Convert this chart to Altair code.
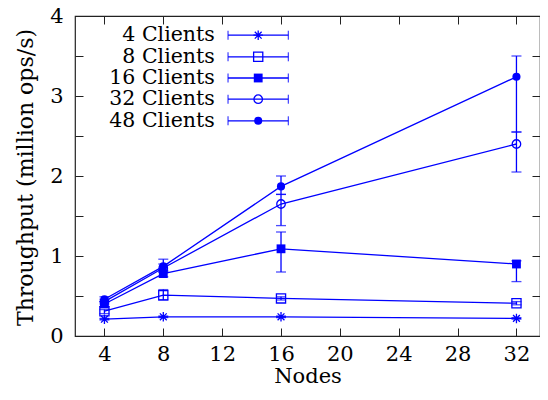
import altair as alt
import pandas as pd

# ---- data ----
nodes = [4, 8, 16, 32]
series = ["4 Clients", "8 Clients", "16 Clients", "32 Clients", "48 Clients"]
c4 = [0.21, 0.24, 0.24, 0.22]
c8 = [0.31, 0.51, 0.47, 0.41]
c16 = [0.40, 0.78, 1.09, 0.90]
c32 = [0.43, 0.85, 1.65, 2.40]
c48 = [0.46, 0.87, 1.87, 3.24]
c4_lo = [0.20, 0.23, 0.23, 0.21]
c4_hi = [0.22, 0.25, 0.25, 0.23]
c8_lo = [0.28, 0.45, 0.45, 0.39]
c8_hi = [0.33, 0.58, 0.49, 0.43]
c16_lo = [0.37, 0.74, 0.80, 0.68]
c16_hi = [0.43, 0.82, 1.30, 0.94]
c32_lo = [0.40, 0.80, 1.38, 2.05]
c32_hi = [0.46, 0.90, 1.77, 2.55]
c48_lo = [0.43, 0.80, 1.77, 2.55]
c48_hi = [0.49, 0.96, 2.00, 3.50]

x_ticks = [4, 8, 12, 16, 20, 24, 28, 32]
y_ticks = [0, 0.5, 1, 1.5, 2, 2.5, 3, 3.5, 4]

# legend placement (data coordinates)
legend_y = [3.76, 3.49, 3.225, 2.96, 2.69]
legend_text_x = 11.5
legend_line_x = [12.4, 16.5]
legend_marker_x = 14.45

BLUE = "#0000ff"
FONT = "DejaVu Serif"
FS = 21
asterisk = "M-1,0L1,0M0,-1L0,1M-0.72,-0.72L0.72,0.72M-0.72,0.72L0.72,-0.72"
shape_scale = alt.Scale(domain=series,
                        range=[asterisk, "square", "square", "circle", "circle"])
size_scale = alt.Scale(domain=series, range=[90, 66, 95, 75, 85])
filled_series = ["16 Clients", "48 Clients"]

means = [c4, c8, c16, c32, c48]
lows = [c4_lo, c8_lo, c16_lo, c32_lo, c48_lo]
highs = [c4_hi, c8_hi, c16_hi, c32_hi, c48_hi]
rows = []
for s, m, lo, hi in zip(series, means, lows, highs):
    for n, v, l, h in zip(nodes, m, lo, hi):
        rows.append({"series": s, "nodes": n, "thr": v, "lo": l, "hi": h})
df = pd.DataFrame(rows)

leg = pd.DataFrame({
    "series": series,
    "ly": legend_y,
    "tx": [legend_text_x] * 5,
    "x1": [legend_line_x[0]] * 5,
    "x2": [legend_line_x[1]] * 5,
    "mx": [legend_marker_x] * 5,
})

xs = alt.Scale(domain=[2, 33.6], nice=False, zero=False)
ys = alt.Scale(domain=[0, 4], nice=False, zero=False)

x_bottom = alt.Axis(values=x_ticks, orient="bottom", grid=False, domain=False,
                    tickSize=8, offset=-8, tickColor="#222", labelPadding=7,
                    labelFont=FONT, labelFontSize=FS, labelColor="black",
                    title="Nodes", titleFont=FONT, titleFontSize=FS,
                    titleFontWeight="normal", titleColor="black", titlePadding=1)
y_left = alt.Axis(values=y_ticks, orient="left", grid=False, domain=False,
                  tickSize=8, offset=-8, tickColor="#222", labelPadding=12,
                  labelExpr="datum.value % 1 == 0 ? '' + datum.value : ''",
                  labelFont=FONT, labelFontSize=FS, labelColor="black",
                  title="Throughput (million ops/s)", titleFont=FONT,
                  titleFontSize=22, titleFontWeight="normal", titleColor="black",
                  titleX=-51, titleY=161, titleAngle=270,
                  titleBaseline="alphabetic", titleAlign="center")
x_top = alt.Axis(values=x_ticks, orient="top", grid=False, domain=False,
                 tickSize=8, offset=-8, tickColor="#222", labels=False, title=None)
y_right = alt.Axis(values=y_ticks, orient="right", grid=False, domain=False,
                   tickSize=8, offset=-8, tickColor="#222", labels=False, title=None)


def X(field, axis=None):
    return alt.X(field, type="quantitative", scale=xs, axis=axis)


def Y(field, axis=None):
    return alt.Y(field, type="quantitative", scale=ys, axis=axis)


base = alt.Chart(df)

lines = base.mark_line(color=BLUE, strokeWidth=1.3).encode(
    x=X("nodes", x_bottom), y=Y("thr", y_left),
    detail="series:N", order="nodes:Q",
)

err = base.mark_rule(color=BLUE, strokeWidth=1.3).encode(
    x=X("nodes", x_top), y=Y("lo", y_right), y2="hi:Q",
)
cap_lo = base.mark_tick(color=BLUE, orient="horizontal", size=10, thickness=1.3).encode(
    x=X("nodes"), y=Y("lo"))
cap_hi = base.mark_tick(color=BLUE, orient="horizontal", size=10, thickness=1.3).encode(
    x=X("nodes"), y=Y("hi"))

pts_open = base.transform_filter(
    ~alt.FieldOneOfPredicate(field="series", oneOf=filled_series)
).mark_point(color=BLUE, filled=False, strokeWidth=1.3, opacity=1).encode(
    x=X("nodes"), y=Y("thr"),
    shape=alt.Shape("series:N", scale=shape_scale, legend=None),
    size=alt.Size("series:N", scale=size_scale, legend=None),
)
pts_fill = base.transform_filter(
    alt.FieldOneOfPredicate(field="series", oneOf=filled_series)
).mark_point(color=BLUE, filled=True, opacity=1).encode(
    x=X("nodes"), y=Y("thr"),
    shape=alt.Shape("series:N", scale=shape_scale, legend=None),
    size=alt.Size("series:N", scale=size_scale, legend=None),
)

lbase = alt.Chart(leg)
leg_text = lbase.mark_text(align="right", baseline="middle", font=FONT,
                           fontSize=20.5, color="black").encode(
    x=X("tx"), y=Y("ly"), text="series:N")
leg_line = lbase.mark_rule(color=BLUE, strokeWidth=1.3).encode(
    x=X("x1"), x2="x2:Q", y=Y("ly"))
leg_cap1 = lbase.mark_tick(color=BLUE, orient="vertical", size=9, thickness=1.3).encode(
    x=X("x1"), y=Y("ly"))
leg_cap2 = lbase.mark_tick(color=BLUE, orient="vertical", size=9, thickness=1.3).encode(
    x=X("x2"), y=Y("ly"))
leg_open = lbase.transform_filter(
    ~alt.FieldOneOfPredicate(field="series", oneOf=filled_series)
).mark_point(color=BLUE, filled=False, strokeWidth=1.3, opacity=1).encode(
    x=X("mx"), y=Y("ly"),
    shape=alt.Shape("series:N", scale=shape_scale, legend=None),
    size=alt.Size("series:N", scale=size_scale, legend=None),
)
leg_fill = lbase.transform_filter(
    alt.FieldOneOfPredicate(field="series", oneOf=filled_series)
).mark_point(color=BLUE, filled=True, opacity=1).encode(
    x=X("mx"), y=Y("ly"),
    shape=alt.Shape("series:N", scale=shape_scale, legend=None),
    size=alt.Size("series:N", scale=size_scale, legend=None),
)

chart = alt.layer(
    lines, err, cap_lo, cap_hi, pts_open, pts_fill,
    leg_line, leg_cap1, leg_cap2, leg_open, leg_fill, leg_text,
).resolve_axis(x="independent", y="independent").properties(
    width=465, height=320,
    autosize=alt.AutoSizeParams(type="none"),
    padding={"left": 67, "top": 8, "right": 0, "bottom": 56},
).configure_view(stroke="#222", strokeWidth=1.2)

chart.save("out.html", embed_options={"renderer": "svg", "actions": False})
